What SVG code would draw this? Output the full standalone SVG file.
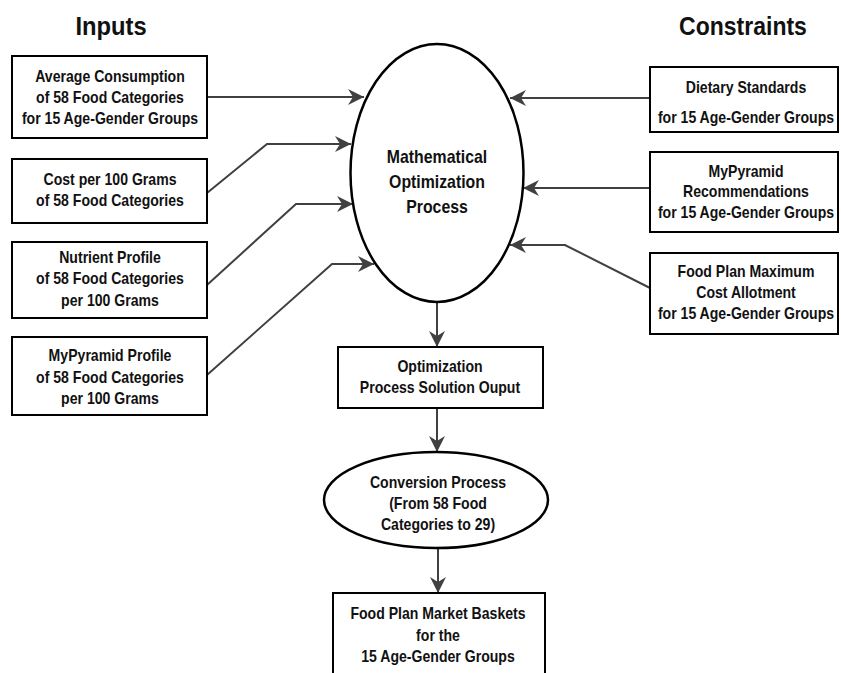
<svg xmlns="http://www.w3.org/2000/svg" width="841" height="673" viewBox="0 0 841 673">
<style>
.box{fill:#fff;stroke:#000;stroke-width:2}
.ell{fill:#fff;stroke:#000;stroke-width:2.5}
.t{font-family:"Liberation Sans",Arial,sans-serif;font-weight:bold;font-size:16px;text-anchor:middle;fill:#111}
.big{font-size:18px}
.title{font-family:"Liberation Sans",Arial,sans-serif;font-weight:bold;font-size:25px;text-anchor:middle;fill:#111}
.c{fill:none;stroke:#404040;stroke-width:2}
</style>
<defs>
<marker id="ah" markerUnits="userSpaceOnUse" markerWidth="17" markerHeight="18" viewBox="0 0 17 18" refX="16" refY="9" orient="auto">
<path d="M0,1 L16,9 L0,17 L5,9 Z" fill="#404040"/>
</marker>
</defs>
<text class="title" transform="translate(111,35) scale(0.95,1)">Inputs</text>
<text class="title" transform="translate(743,35) scale(0.92,1)">Constraints</text>
<g id="connectors">
<path class="c" d="M207,97 H364" marker-end="url(#ah)"/>
<path class="c" d="M207,193 L267,144 H351" marker-end="url(#ah)"/>
<path class="c" d="M207,285 L296,204 H353" marker-end="url(#ah)"/>
<path class="c" d="M207,375 L332,264 H374" marker-end="url(#ah)"/>
<path class="c" d="M650,98 H510" marker-end="url(#ah)"/>
<path class="c" d="M650,188 H523" marker-end="url(#ah)"/>
<path class="c" d="M650,288 L565,245 H510" marker-end="url(#ah)"/>
<path class="c" d="M437,302 V347" marker-end="url(#ah)"/>
<path class="c" d="M437,408 V452" marker-end="url(#ah)"/>
<path class="c" d="M438,548 V593" marker-end="url(#ah)"/>
</g>
<g id="in1"><rect class="box" x="12" y="56" width="195" height="82"/>
<text class="t" transform="translate(110,82) scale(0.88,1)">Average Consumption</text><text class="t" transform="translate(110,103) scale(0.88,1)">of 58 Food Categories</text><text class="t" transform="translate(110,124) scale(0.88,1)">for 15 Age-Gender Groups</text></g>
<g id="in2"><rect class="box" x="12" y="159" width="195" height="64"/>
<text class="t" transform="translate(110,185) scale(0.88,1)">Cost per 100 Grams</text><text class="t" transform="translate(110,206) scale(0.88,1)">of 58 Food Categories</text></g>
<g id="in3"><rect class="box" x="12" y="242" width="195" height="76"/>
<text class="t" transform="translate(110,263) scale(0.88,1)">Nutrient Profile</text><text class="t" transform="translate(110,284) scale(0.88,1)">of 58 Food Categories</text><text class="t" transform="translate(110,306) scale(0.88,1)">per 100 Grams</text></g>
<g id="in4"><rect class="box" x="12" y="337" width="195" height="78"/>
<text class="t" transform="translate(110,361) scale(0.88,1)">MyPyramid Profile</text><text class="t" transform="translate(110,383) scale(0.88,1)">of 58 Food Categories</text><text class="t" transform="translate(110,404) scale(0.88,1)">per 100 Grams</text></g>
<g id="c1"><rect class="box" x="650" y="67" width="188" height="65"/>
<text class="t" transform="translate(746,93) scale(0.88,1)">Dietary Standards</text><text class="t" transform="translate(746,123) scale(0.88,1)">for 15 Age-Gender Groups</text></g>
<g id="c2"><rect class="box" x="650" y="152" width="188" height="80"/>
<text class="t" transform="translate(746,177) scale(0.88,1)">MyPyramid</text><text class="t" transform="translate(746,197) scale(0.88,1)">Recommendations</text><text class="t" transform="translate(746,218) scale(0.88,1)">for 15 Age-Gender Groups</text></g>
<g id="c3"><rect class="box" x="650" y="253" width="188" height="81"/>
<text class="t" transform="translate(746,277) scale(0.88,1)">Food Plan Maximum</text><text class="t" transform="translate(746,298) scale(0.88,1)">Cost Allotment</text><text class="t" transform="translate(746,319) scale(0.88,1)">for 15 Age-Gender Groups</text></g>
<g id="mop"><ellipse class="ell" cx="437" cy="173" rx="86.5" ry="129"/>
<text class="t big" transform="translate(437,163) scale(0.88,1)">Mathematical</text><text class="t big" transform="translate(437,188) scale(0.88,1)">Optimization</text><text class="t big" transform="translate(437,213) scale(0.88,1)">Process</text></g>
<g id="out"><rect class="box" x="338" y="347" width="205" height="61"/>
<text class="t" transform="translate(440,372) scale(0.88,1)">Optimization</text><text class="t" transform="translate(440,393) scale(0.88,1)">Process Solution Ouput</text></g>
<g id="conv"><ellipse class="ell" cx="436" cy="500" rx="112" ry="48"/>
<text class="t" transform="translate(438,488) scale(0.88,1)">Conversion Process</text><text class="t" transform="translate(438,509) scale(0.88,1)">(From 58 Food</text><text class="t" transform="translate(438,530) scale(0.88,1)">Categories to 29)</text></g>
<g id="fin"><rect class="box" x="333" y="593" width="212" height="90"/>
<text class="t" transform="translate(438,619) scale(0.88,1)">Food Plan Market Baskets</text><text class="t" transform="translate(438,641) scale(0.88,1)">for the</text><text class="t" transform="translate(438,662) scale(0.88,1)">15 Age-Gender Groups</text></g>
</svg>
